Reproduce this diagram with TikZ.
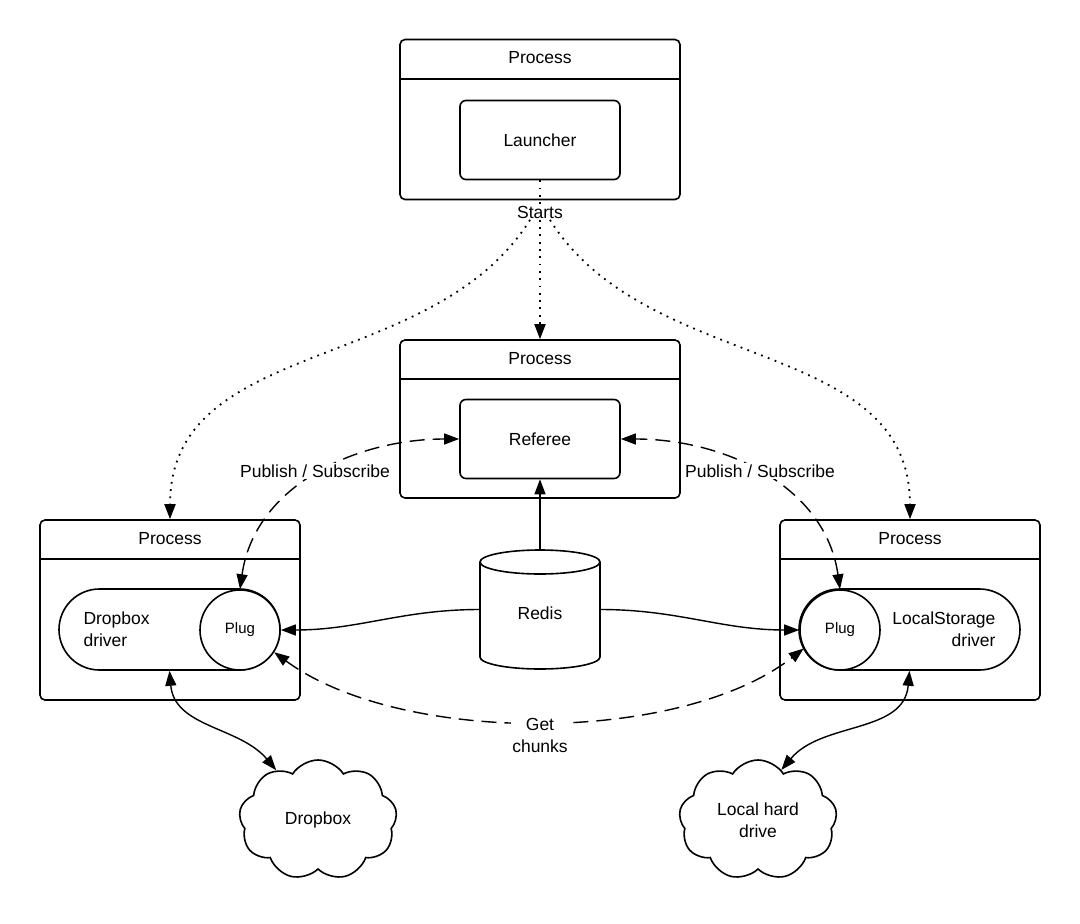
\documentclass[tikz,border=0pt]{standalone}
\usepackage{fontspec}
\setmainfont{Liberation Sans}
\usetikzlibrary{arrows.meta,shapes.misc,shapes.symbols,shapes.geometric}
\begin{document}
\begin{tikzpicture}[x=1pt,y=-1pt,
  txt/.style={font=\fontsize{17.5}{22}\selectfont},
  procbox/.style={draw,line width=1.6pt,rounded corners=5pt,inner sep=0pt},
  inbox/.style={draw,line width=1.6pt,rounded corners=6pt,minimum width=160pt,minimum height=79pt,txt},
  driver/.style={draw,line width=1.6pt,rounded rectangle,minimum width=221pt,minimum height=81pt,inner sep=0pt},
  plug/.style={draw,line width=1.6pt,circle,fill=white,minimum size=80pt,inner sep=0pt,font=\fontsize{15}{18}\selectfont},
  cloudy/.style={draw,line width=1.6pt,cloud,cloud puffs=9,cloud puff arc=115,aspect=1.3,minimum width=158pt,minimum height=120pt,txt,align=center},
  arr/.style={line width=1.4pt,-{Triangle[length=15pt,width=11pt]}},
  darr/.style={line width=1.4pt,{Triangle[length=15pt,width=11pt]}-{Triangle[length=15pt,width=11pt]}},
  dasharr/.style={line width=1.4pt,dash pattern=on 15pt off 8pt,{Triangle[length=15pt,width=11pt]}-{Triangle[length=15pt,width=11pt]}},
  dotarr/.style={line width=1.8pt,dash pattern=on 1.8pt off 5.5pt,-{Triangle[length=15pt,width=11pt]}},
  dotline/.style={line width=1.8pt,dash pattern=on 1.8pt off 5.5pt},
  lbl/.style={txt,fill=white,inner sep=1.5pt,align=center}
]
\useasboundingbox (0,0) rectangle (1080,924);

% process boxes
\node[procbox,minimum width=280pt,minimum height=160pt] (p1) at (540,119.5) {};
\node[procbox,minimum width=280pt,minimum height=158pt] (p2) at (540,419) {};
\node[procbox,minimum width=260pt,minimum height=180pt] (p3) at (170,610) {};
\node[procbox,minimum width=260pt,minimum height=180pt] (p4) at (910,610) {};
\foreach \p in {p1,p2,p3,p4}{
  \draw[line width=1.6pt] ([yshift=-40pt]\p.north west) -- ([yshift=-40pt]\p.north east);
  \node[txt] at ([yshift=-19pt]\p.north) {Process};
}

\node[inbox] (launch) at (540,140) {Launcher};
\node[inbox] (ref) at (540,439) {Referee};

% drivers
\node[driver] (drv1) at (169.5,629.5) {};
\node[txt,align=left,anchor=west] (drv1t) at (80,629) {Dropbox\\driver};
\node[plug] (plug1) at (240,630) {Plug};

\node[driver] (drv2) at (909.5,629.5) {};
\node[txt,align=right,anchor=east] (drv2t) at (999,629) {LocalStorage\\driver};
\node[plug] (plug2) at (840,630) {Plug};

% redis cylinder
\node[minimum width=120pt,minimum height=119pt,inner sep=0pt] (redis) at (540,609.5) {};
\draw[line width=1.6pt] (540,562) ellipse[x radius=60pt,y radius=12pt];
\draw[line width=1.6pt] (480,562) -- (480,657) arc[start angle=180,end angle=360,x radius=60pt,y radius=12pt] -- (600,562);
\node[txt] at (540,613) {Redis};

% clouds
\node[cloudy] (cl1) at (318,820) {Dropbox};
\node[cloudy] (cl2) at (758,820) {Local hard\\drive};

% starts
\node[lbl] (starts) at (540,212) {Starts};
\draw[dotline] (launch.south) -- (starts.north);
\draw[dotarr] (starts.south) -- (p2.north);
\draw[dotarr] ([xshift=-10pt]starts.south) to[out=-122,in=90] (p3.north);
\draw[dotarr] ([xshift=10pt]starts.south) to[out=-58,in=90] (p4.north);

% redis connectors
\draw[arr] (redis.north) -- (ref.south);
\draw[arr] (redis.west) to[out=180,in=0] (plug1.east);
\draw[arr] (redis.east) to[out=0,in=180] (plug2.west);

% publish / subscribe
\draw[dasharr] (plug1.north) to[out=82,in=180] (ref.west);
\node[lbl] at (315,471) {Publish / Subscribe};
\draw[dasharr] (plug2.north) to[out=98,in=0] (ref.east);
\node[lbl] at (760,471) {Publish / Subscribe};

% get chunks
\draw[dasharr] (plug1.-33) .. controls (400,745) and (680,745) .. (plug2.207);
\node[lbl] at (540,735) {Get\\chunks};

% drive connectors
\draw[darr] (drv1.south) to[out=-85,in=130] (cl1.130);
\draw[darr] (drv2.south) to[out=-95,in=50] (cl2.65);
\end{tikzpicture}
\end{document}
